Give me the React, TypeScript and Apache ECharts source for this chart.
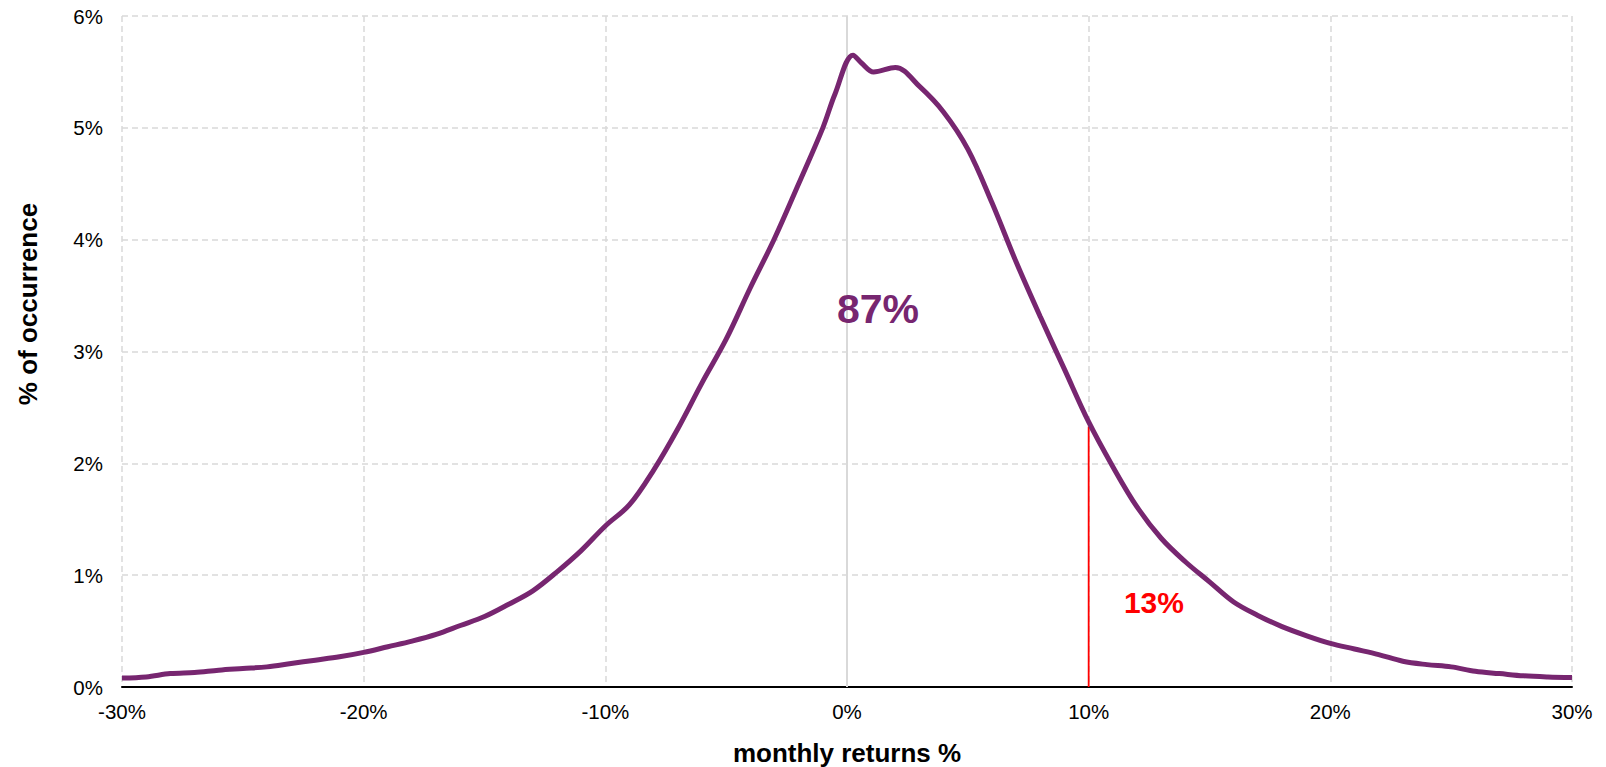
import React, { useEffect, useRef } from "react";
import * as echarts from "echarts";

// monthly returns (%) and % of occurrence
const returnsPct = [
  -30, -29, -28, -27, -26, -25, -24, -23, -22, -21, -20, -19, -18, -17, -16, -15, -14, -13, -12, -11,
  -10, -9, -8, -7, -6, -5, -4, -3, -2, -1, -0.5, 0.25, 0.6, 1.1, 2, 3, 4, 5, 6, 7, 8, 9, 10, 11, 12,
  13, 14, 15, 16, 17, 18, 19, 20, 21, 22, 23, 24, 25, 26, 27, 28, 29, 30,
];
const occurrencePct = [
  0.08, 0.09, 0.12, 0.13, 0.15, 0.165, 0.18, 0.21, 0.24, 0.27, 0.31, 0.36, 0.41, 0.47, 0.55, 0.63, 0.74, 0.86, 1.03, 1.22,
  1.44, 1.63, 1.94, 2.31, 2.72, 3.11, 3.57, 4.01, 4.5, 5.0, 5.3, 5.65, 5.58, 5.5, 5.54, 5.37, 5.14, 4.81, 4.33, 3.8, 3.31, 2.84, 2.37, 1.97, 1.61,
  1.33, 1.12, 0.94, 0.76, 0.64, 0.54, 0.46, 0.39, 0.34, 0.29, 0.23, 0.2, 0.18, 0.14, 0.12, 0.1, 0.09, 0.085,
];

// threshold marker
const thresholdX = 10;
const thresholdTop = 2.33;

// annotation texts
const annotations = [
  { x: 1.28, y: 3.38, text: "87%", color: "#772670", size: 41 },
  { x: 12.7, y: 0.76, text: "13%", color: "#ff0000", size: 30 },
];

const xTicks = { min: -30, max: 30, interval: 10 };
const yTicks = { min: 0, max: 6, interval: 1 };

const FONT = '"Liberation Sans", Arial, sans-serif';

export default function App() {
  const ref = useRef<HTMLDivElement>(null);

  useEffect(() => {
    if (!ref.current) return;
    const chart = echarts.init(ref.current, undefined, { renderer: "svg" });
    const curve = returnsPct.map((x, i) => [x, occurrencePct[i]]);

    chart.setOption({
      animation: false,
      backgroundColor: "#ffffff",
      textStyle: { fontFamily: FONT },
      grid: { left: 122, right: 34, top: 16, bottom: 80, containLabel: false, outerBoundsMode: "none" },
      xAxis: {
        type: "value",
        min: xTicks.min,
        max: xTicks.max,
        interval: xTicks.interval,
        name: "monthly returns %",
        nameLocation: "middle",
        nameGap: 53,
        nameTextStyle: { fontFamily: FONT, fontSize: 26, fontWeight: "bold", color: "#000" },
        axisLine: { show: true, onZero: false, lineStyle: { color: "#000", width: 2 } },
        axisTick: { show: false },
        axisLabel: {
          fontFamily: FONT,
          fontSize: 20.5,
          color: "#000",
          margin: 14,
          formatter: (v: number) => `${v}%`,
        },
        splitLine: { show: true, lineStyle: { color: "#d9d9d9", type: [6, 4], width: 1.5 } },
      },
      yAxis: {
        type: "value",
        min: yTicks.min,
        max: yTicks.max,
        interval: yTicks.interval,
        axisLine: { show: false },
        axisTick: { show: false },
        axisLabel: {
          fontFamily: FONT,
          fontSize: 20.5,
          color: "#000",
          margin: 19,
          formatter: (v: number) => `${v}%`,
        },
        splitLine: { show: true, lineStyle: { color: "#d9d9d9", type: [6, 4], width: 1.5 } },
      },
      graphic: [
        {
          type: "text",
          x: 28,
          y: 304,
          rotation: Math.PI / 2,
          style: {
            text: "% of occurrence",
            fontFamily: FONT,
            fontSize: 26,
            fontWeight: "bold",
            fill: "#000",
            align: "center",
            verticalAlign: "middle",
          },
        },
      ],
      series: [
        {
          type: "line",
          name: "zero",
          data: [
            [0, yTicks.min],
            [0, yTicks.max],
          ],
          symbol: "none",
          lineStyle: { color: "#d9d9d9", width: 2 },
          silent: true,
          z: 1,
        },
        {
          type: "line",
          name: "threshold",
          data: [
            [thresholdX, 0],
            [thresholdX, thresholdTop],
          ],
          symbol: "none",
          lineStyle: { color: "#ff0000", width: 1.8 },
          silent: true,
          z: 2,
        },
        {
          type: "line",
          name: "distribution",
          data: curve,
          smooth: 0.35,
          symbol: "none",
          lineStyle: { color: "#772670", width: 5 },
          z: 3,
        },
        {
          type: "scatter",
          name: "labels",
          symbolSize: 0,
          itemStyle: { opacity: 1 },
          data: annotations.map((a) => ({
            value: [a.x, a.y],
            label: {
              show: true,
              position: "inside",
              formatter: a.text,
              fontFamily: FONT,
              fontSize: a.size,
              fontWeight: "bold",
              color: a.color,
              opacity: 1,
            },
          })),
          silent: true,
          z: 4,
        },
      ],
    });

    return () => chart.dispose();
  }, []);

  return (
    <div
      ref={ref}
      style={{ position: "absolute", left: 0, top: 0, width: 1606, height: 767 }}
    />
  );
}
